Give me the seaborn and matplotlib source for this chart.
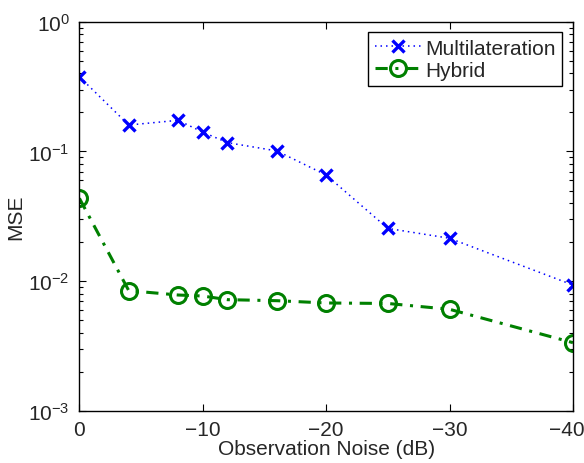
import matplotlib
matplotlib.use("Agg")
import matplotlib.pyplot as plt
import matplotlib.transforms as mtransforms
import seaborn as sns
import numpy as np
import pandas as pd

noise_db = [0, -4, -8, -10, -12, -16, -20, -25, -30, -40]
mse_multilateration = [0.377, 0.160, 0.174, 0.141, 0.117, 0.101, 0.0658, 0.0255, 0.0214, 0.00933]
mse_hybrid = [0.0435, 0.00844, 0.00781, 0.00767, 0.00719, 0.00706, 0.00678, 0.00672, 0.00606, 0.00335]
x_ticks = [0, -10, -20, -30, -40]
x_tick_labels = ['0', '\u221210', '\u221220', '\u221230', '\u221240']

sns.set_style("ticks")
plt.rcParams['font.family'] = ['Liberation Sans', 'DejaVu Sans']
plt.rcParams['mathtext.fontset'] = 'custom'
plt.rcParams['mathtext.rm'] = 'Liberation Sans'
plt.rcParams['mathtext.it'] = 'Liberation Sans'

FS = 15

fig = plt.figure(figsize=(5.84, 4.64), dpi=100)
ax = fig.add_axes([0.136, 0.1127, 0.845, 0.838])

sns.lineplot(x=noise_db, y=mse_multilateration, ax=ax, color='#0000ff',
             linewidth=1.1, dashes=(1, 2.6), marker='x', markersize=8, markeredgewidth=2.4,
             markeredgecolor='#0000ff', markerfacecolor='#0000ff',
             label='Multilateration', sort=False)
sns.lineplot(x=noise_db, y=mse_hybrid, ax=ax, color='#008000',
             linewidth=2.2, dashes=(4, 2.5, 1, 2.5), marker='o', markersize=11.5, markeredgewidth=2.2,
             markerfacecolor='none', markeredgecolor='#008000',
             label='Hybrid', sort=False)

ax.set_yscale('log')
ax.set_ylim(1e-3, 1)
ax.set_xlim(0, -40)
ax.set_xticks(x_ticks)
ax.set_xticklabels(x_tick_labels)

ax.set_xlabel('Observation Noise (dB)', fontsize=FS, labelpad=0)
ax.set_ylabel('MSE', fontsize=FS, labelpad=2)
ax.tick_params(axis='both', which='both', direction='in', top=True, right=True,
               labelsize=FS, width=0.8, color='black')
ax.tick_params(axis='both', which='major', length=5, pad=7)
ax.tick_params(axis='both', which='minor', length=3)
for s in ax.spines.values():
    s.set_color('black')
    s.set_linewidth(1.0)

# keep last x tick label inside the figure
last = ax.get_xticklabels()[-1]
last.set_transform(last.get_transform() + mtransforms.ScaledTranslation(-6/100, 0, fig.dpi_scale_trans))

leg = ax.legend(loc='upper right', fontsize=FS, frameon=True, fancybox=False,
                edgecolor='black', framealpha=1, borderaxespad=0.5,
                handlelength=2.2, handletextpad=0.25, borderpad=0.3, labelspacing=0.15)
leg.get_frame().set_linewidth(1.0)

fig.savefig('out.png', dpi=100)
